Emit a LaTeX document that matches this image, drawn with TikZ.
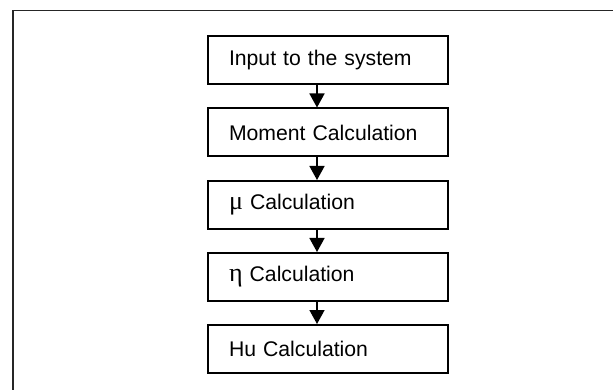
\documentclass[tikz,border=0pt]{standalone}
\usepackage{fontspec}
\setmainfont{Liberation Sans}
\newfontfamily\grk{Liberation Serif}
\usetikzlibrary{arrows.meta}
\begin{document}
\begin{tikzpicture}[x=1pt,y=-1pt,
  stepbox/.style={draw=black,line width=2pt,minimum width=240pt,minimum height=48pt,
    inner xsep=21pt,inner ysep=0pt,text width=198pt,align=left,anchor=north west,
    font=\fontsize{21.2pt}{24pt}\selectfont},
  flow/.style={line width=1.6pt,-{Triangle[width=15pt,length=14pt]}}]
\useasboundingbox (0,0) rectangle (613,390);
\clip (0,0) rectangle (613,390);
\fill[white] (0,0) rectangle (613,390);
\draw[line width=1.5pt,black!85] (13,10.3) rectangle (640,420);
\node[stepbox] (b1) at (207,35) {Input to the system};
\node[stepbox] (b2) at (207,107.5) {Moment Calculation};
\node[stepbox] (b3) at (207,180) {\raisebox{-4pt}{{\grk\fontsize{26pt}{26pt}\selectfont μ} Calculation}};
\node[stepbox] (b4) at (207,252) {\raisebox{-1pt}{{\grk\fontsize{26pt}{26pt}\selectfont η} Calculation}};
\node[stepbox] (b5) at (207,324) {Hu Calculation};
\foreach \a/\b in {b1/b2,b2/b3,b3/b4,b4/b5}
  \draw[flow] (\a.south west) ++(110,0) coordinate (s\a) -- (s\a |- \b.north);
\end{tikzpicture}
\end{document}
